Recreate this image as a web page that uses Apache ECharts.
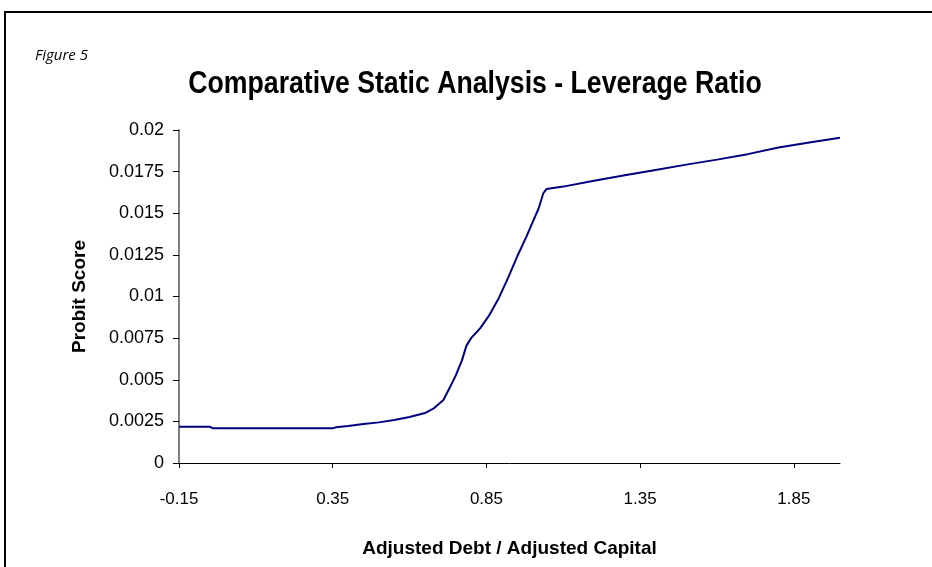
<!DOCTYPE html>
<html><head><meta charset="utf-8">
<script src="https://cdn.jsdelivr.net/npm/echarts@6/dist/echarts.min.js"></script>
<style>html,body{margin:0;padding:0;background:#fff}#c{width:932px;height:567px}</style>
</head><body><div id="c"></div>
<script>
const leverage = [-0.15,-0.05,-0.04,0.35,0.36,0.40,0.45,0.50,0.55,0.60,0.65,0.68,0.71,0.73,0.75,0.77,0.785,0.80,0.83,0.86,0.89,0.92,0.95,0.98,1.00,1.02,1.035,1.045,1.10,1.20,1.30,1.40,1.50,1.60,1.70,1.80,1.90,2.00];
const probit = [0.00218,0.00218,0.00208,0.00208,0.00214,0.00222,0.00234,0.00244,0.00258,0.00276,0.00300,0.00330,0.00378,0.00450,0.00525,0.00615,0.00705,0.00750,0.00810,0.00890,0.00990,0.01110,0.01240,0.01360,0.01445,0.01530,0.01620,0.01645,0.01660,0.01695,0.01728,0.01760,0.01792,0.01822,0.01855,0.01895,0.01925,0.01954];
const xTicks = [-0.15,0.35,0.85,1.35,1.85];
const titleText = 'Comparative Static Analysis - Leverage Ratio';

const chart = echarts.init(document.getElementById('c'));
chart.setOption({
  animation:false,
  backgroundColor:'#fff',
  graphic:[
    {type:'rect',shape:{x:5,y:12,width:1000,height:1000},style:{fill:'none',stroke:'#000',lineWidth:2},silent:true},
    {type:'text',left:35,top:48,style:{text:'Figure 5',font:'italic 15px "Open Sans", sans-serif',fill:'#000'}},
    {type:'text',x:475,y:84,scaleX:0.86,style:{text:titleText,textAlign:'center',textVerticalAlign:'middle',
      font:'bold 31px "Liberation Sans", Arial, sans-serif',fill:'#000'}}
  ],
  grid:{left:179,right:92,top:130,bottom:104},
  xAxis:{type:'value',min:-0.15,max:2.0,
    name:'Adjusted Debt / Adjusted Capital',nameLocation:'middle',nameGap:76,
    nameTextStyle:{fontFamily:'"Liberation Sans",Arial,sans-serif',fontWeight:'bold',fontSize:19,color:'#000'},
    axisLine:{onZero:false,lineStyle:{color:'#000',width:1}},
    axisTick:{show:true,length:5,inside:false,customValues:xTicks,lineStyle:{color:'#000'}},
    axisLabel:{customValues:xTicks,margin:28,fontFamily:'"Liberation Sans",Arial,sans-serif',fontSize:17,color:'#000'},
    splitLine:{show:false}},
  yAxis:{type:'value',min:0,max:0.02,interval:0.0025,
    name:'Probit Score',nameLocation:'middle',nameGap:90,
    nameTextStyle:{fontFamily:'"Liberation Sans",Arial,sans-serif',fontWeight:'bold',fontSize:19,color:'#000'},
    axisLine:{show:true,onZero:false,lineStyle:{color:'#808080',width:2}},
    axisTick:{show:true,length:6,lineStyle:{color:'#000'}},
    axisLabel:{margin:15,fontFamily:'"Liberation Sans",Arial,sans-serif',fontSize:18,color:'#000'},
    splitLine:{show:false}},
  series:[{type:'line',data:leverage.map((x,i)=>[x,probit[i]]),showSymbol:false,
    lineStyle:{color:'#000080',width:2},itemStyle:{color:'#000080'}}]
});
</script></body></html>
